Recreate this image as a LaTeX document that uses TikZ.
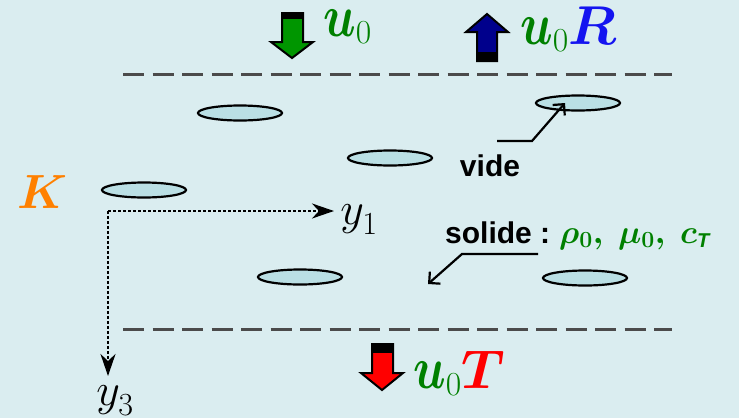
\RequirePackage{fix-cm}
\documentclass[tikz,border=0pt]{standalone}
\usepackage{fontspec}
\setsansfont{Liberation Sans}
\usepackage{bm}
\usepackage{graphicx}
\usetikzlibrary{shapes.geometric,arrows.meta}
\definecolor{bg}{RGB}{218,237,240}
\definecolor{porefill}{RGB}{186,223,228}
\definecolor{dashgray}{RGB}{75,75,75}
\definecolor{mgreen}{RGB}{0,128,0}
\definecolor{agreen}{RGB}{0,150,0}
\definecolor{ablue}{RGB}{0,0,140}
\definecolor{mblue}{RGB}{20,20,240}
\definecolor{ared}{RGB}{255,0,0}
\definecolor{morange}{RGB}{255,128,0}
\newcommand{\bigu}{\scalebox{1.0}[1.25]{$\bm{u}$}}
\begin{document}
\begin{tikzpicture}[x=1pt,y=-1pt,
  pore/.style={ellipse,draw=black,fill=porefill,line width=2.2pt,minimum width=84pt,minimum height=15pt,inner sep=0pt},
  dashline/.style={draw=dashgray,line width=3pt,dash pattern=on 21pt off 8.5pt},
  axisline/.style={draw=black,line width=2.5pt,dash pattern=on 2.5pt off 2.5pt,-{Stealth[length=22pt,width=15pt,inset=7pt]}},
  pointer/.style={draw=black,line width=2.2pt,-{Straight Barb[length=8pt,width=16pt]}},
  blockarrow/.style={draw=black,line width=2pt,line join=miter},
  sanslabel/.style={font=\fontsize{30}{36}\selectfont\sffamily\bfseries,inner sep=0pt},
  mathlabel/.style={font=\fontsize{48}{56}\selectfont,inner sep=0pt},
  ]
\fill[bg] (0,0) rectangle (739,418);
\useasboundingbox (0,0) rectangle (739,418);

% dashed boundaries
\coordinate (t1) at (123,74); \coordinate (t2) at (672,74);
\coordinate (b1) at (123,329); \coordinate (b2) at (672,329);
\draw[dashline] (t1) -- (t2);
\draw[dashline] (b1) -- (b2);

% pores
\node[pore] (p1) at (240,113) {};
\node[pore] (p2) at (390,158) {};
\node[pore] (p3) at (578,103) {};
\node[pore] (p4) at (144,190) {};
\node[pore] (p5) at (300,277) {};
\node[pore] (p6) at (585,278) {};

% block arrows
\draw[blockarrow,fill=agreen] (282,13) -- (303,13) -- (303,42) -- (313,42) -- (292,58) -- (271,42) -- (282,42) -- cycle;
\fill[black] (282,13) rectangle (303,19);
\draw[blockarrow,fill=ablue] (477,61) -- (497,61) -- (497,32) -- (508,32) -- (487,14) -- (466,32) -- (477,32) -- cycle;
\fill[black] (477,52) rectangle (497,61);
\draw[blockarrow,fill=ared] (372,344) -- (393,344) -- (393,373) -- (403,373) -- (382,390) -- (361,373) -- (372,373) -- cycle;
\fill[black] (372,344) rectangle (393,353);

% labels of the waves
\node[mathlabel,anchor=base west] (u0) at (323,36) {\color{mgreen}$\bigu_0$};
\node[mathlabel,anchor=base west] (u0R) at (520,44) {$\color{mgreen}\bigu_0\color{mblue}\scalebox{1.14}{$\bm{R}$}$};
\node[mathlabel,anchor=base west] (u0T) at (413,388) {$\color{mgreen}\bigu_0\color{ared}\scalebox{1.14}{$\bm{T}$}$};

% K
\node[mathlabel] (K) at (42,192) {\color{morange}$\bm{K}$};

% axes
\coordinate (O) at (108,211);
\coordinate (y1tip) at (334,211);
\coordinate (y3tip) at (108,376);
\draw[axisline] (O) -- (y1tip);
\draw[axisline] (O) -- (y3tip);
\node[font=\fontsize{46}{50}\selectfont,inner sep=0pt] (y1) at (359,220) {$y_{\raisebox{-3pt}{$\scriptstyle 1$}}$};
\node[font=\fontsize{46}{50}\selectfont,inner sep=0pt] (y3) at (115,401) {$y_{\raisebox{-3pt}{$\scriptstyle 3$}}$};

% vide
\node[sanslabel,anchor=base] (vide) at (490,176) {vide};
\coordinate (v1) at (497,141);
\coordinate (v2) at (532,141);
\coordinate (v3) at (565,103);
\draw[pointer] (v1) -- (v2) -- (v3);

% solide
\node[sanslabel,anchor=base west] (solide) at (445,243) {solide :\hspace{0.3em}\fontsize{33}{36}\selectfont\color{mgreen}$\bm{\rho_0,\ \mu_0,\ c}_{\mbox{\fontsize{20}{20}\selectfont\sffamily\bfseries\itshape T}}$};
\coordinate (s1) at (538,254);
\coordinate (s2) at (462,254);
\coordinate (s3) at (428,284);
\draw[pointer] (s1) -- (s2) -- (s3);
\end{tikzpicture}
\end{document}
